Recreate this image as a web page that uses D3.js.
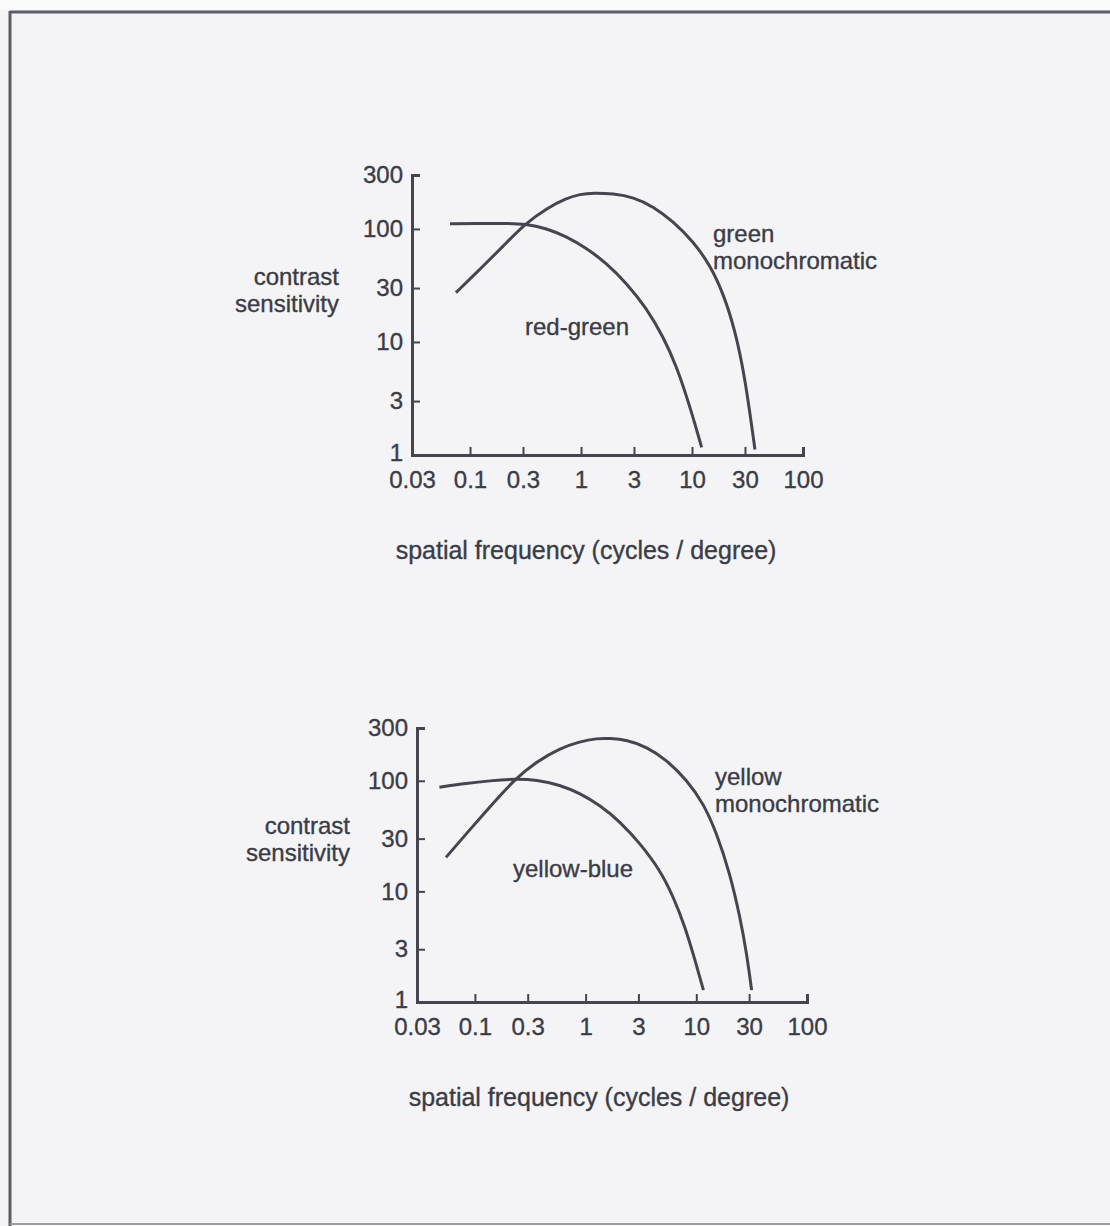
<!DOCTYPE html>
<html>
<head>
<meta charset="utf-8">
<script src="https://cdn.jsdelivr.net/npm/d3@7"></script>
<style>
  html, body { margin: 0; padding: 0; background: #f4f4f6; }
  svg { display: block; }
  text { font-family: "Liberation Sans", Arial, Helvetica, sans-serif; fill: #3b3c46; stroke: #3b3c46; stroke-width: 0.35px; }
</style>
</head>
<body>
<svg id="chart" width="1110" height="1226"></svg>
<script>
// ---- tick values / labels ----
const freqTicks = [0.03, 0.1, 0.3, 1, 3, 10, 30, 100];
const freqTickLabels = ["0.03", "0.1", "0.3", "1", "3", "10", "30", "100"];
const sensTicks = [1, 3, 10, 30, 100, 300];
const sensTickLabels = ["1", "3", "10", "30", "100", "300"];
const yTitleLines = ["contrast", "sensitivity"];
const xTitle = "spatial frequency (cycles / degree)";

// ---- top panel series ----
const redGreenFreq = [0.066, 0.123, 0.214, 0.313, 0.49, 0.741, 1.12, 1.70, 2.58, 3.90, 5.51, 7.27, 8.95, 10.6, 12.2];
const redGreenSens = [111, 112, 112, 111, 101, 85.5, 67.5, 49.7, 33, 19.9, 11.1, 6.04, 3.28, 1.91, 1.17];
const greenMonoFreq = [0.0746, 0.123, 0.200, 0.313, 0.49, 0.741, 0.98, 1.29, 1.95, 2.96, 4.48, 6.78, 10.3, 14.5, 19.1, 24.4, 30, 36.9];
const greenMonoSens = [27.3, 44, 70.8, 111, 152, 187, 203, 209, 205, 191, 158, 116, 77, 48, 27, 12.8, 4.9, 1.12];

// ---- bottom panel series ----
const yellowBlueFreq = [0.0478, 0.0843, 0.137, 0.230, 0.361, 0.588, 0.889, 1.35, 2.05, 3.10, 4.70, 6.20, 7.91, 9.73, 11.6];
const yellowBlueSens = [87.4, 94.9, 100, 104, 102, 91.6, 77, 60, 42.7, 27.2, 15.6, 8.95, 4.80, 2.40, 1.28];
const yellowMonoFreq = [0.0548, 0.0843, 0.137, 0.230, 0.361, 0.588, 0.889, 1.26, 1.66, 2.35, 3.56, 5.40, 8.19, 11.6, 15.3, 20.1, 24.8, 28.5, 31.6];
const yellowMonoSens = [20.3, 33.5, 58.3, 104, 149, 197, 226, 242, 242, 234, 203, 154, 102, 62.6, 33.5, 14.6, 5.9, 2.76, 1.28];

const ink = "#44454f";
const svg = d3.select("#chart");

// page frame of the scan
svg.append("rect").attr("x", 0).attr("y", 0).attr("width", 1110).attr("height", 1226).attr("fill", "#f4f4f6");
svg.append("rect").attr("x", 0).attr("y", 0).attr("width", 1110).attr("height", 10).attr("fill", "#fafafb");
svg.append("line").attr("x1", 10).attr("x2", 1110).attr("y1", 12).attr("y2", 12)
  .attr("stroke", "#5a5c66").attr("stroke-width", 3);
svg.append("line").attr("x1", 10).attr("x2", 10).attr("y1", 11).attr("y2", 1226)
  .attr("stroke", "#5a5c66").attr("stroke-width", 3);
svg.append("line").attr("x1", 10).attr("x2", 1110).attr("y1", 1224).attr("y2", 1224)
  .attr("stroke", "#9c9ea6").attr("stroke-width", 2);

function twoLines(g, lines, x, yFirst, anchor) {
  lines.forEach((s, i) => {
    g.append("text").attr("x", x).attr("y", yFirst + i * 27)
      .attr("text-anchor", anchor).attr("font-size", 24).text(s);
  });
}

function panel(cfg) {
  const x = d3.scaleLog().domain([0.03, 100]).range(cfg.xRange);
  const y = d3.scaleLog().domain([1, 300]).range(cfg.yRange);
  const g = svg.append("g");

  const xAxis = d3.axisBottom(x).tickValues(freqTicks)
    .tickFormat((d, i) => freqTickLabels[i]).tickSize(-8).tickPadding(16);
  const yAxis = d3.axisLeft(y).tickValues(sensTicks)
    .tickFormat((d, i) => sensTickLabels[i]).tickSize(-8).tickPadding(9);

  const gx = g.append("g").attr("transform", `translate(0,${cfg.yRange[0]})`).call(xAxis);
  const gy = g.append("g").attr("transform", `translate(${cfg.xRange[0]},0)`).call(yAxis);
  [gx, gy].forEach(a => {
    a.selectAll("path.domain").attr("stroke", ink).attr("stroke-width", 3).attr("fill", "none");
    a.selectAll(".tick line").attr("stroke", ink).attr("stroke-width", 2);
    a.selectAll(".tick text").attr("font-size", 24).attr("fill", "#3b3c46")
      .attr("font-family", '"Liberation Sans", Arial, Helvetica, sans-serif');
  });
  // the lowest y label sits a little higher, clear of the x labels
  gy.selectAll(".tick text").filter(d => d === 1).attr("y", -2);

  const line = d3.line().x(d => x(d[0])).y(d => y(d[1])).curve(d3.curveBasis);
  cfg.series.forEach(s => {
    g.append("path").datum(d3.zip(s.f, s.v)).attr("d", line)
      .attr("fill", "none").attr("stroke", ink).attr("stroke-width", 3)
      .attr("stroke-linecap", "butt");
    twoLines(g, s.label, s.lx, s.ly, "start");
  });

  twoLines(g, yTitleLines, cfg.yTitleX, cfg.yTitleY, "end");
  g.append("text").attr("x", cfg.xTitleX).attr("y", cfg.xTitleY)
    .attr("text-anchor", "middle").attr("font-size", 25).text(xTitle);
}

panel({
  xRange: [412, 803], yRange: [455, 175],
  yTitleX: 339, yTitleY: 285, xTitleX: 586, xTitleY: 559,
  series: [
    { f: redGreenFreq, v: redGreenSens, label: ["red-green"], lx: 525, ly: 335 },
    { f: greenMonoFreq, v: greenMonoSens, label: ["green", "monochromatic"], lx: 713, ly: 242 }
  ]
});

panel({
  xRange: [417, 807], yRange: [1002, 728],
  yTitleX: 350, yTitleY: 834, xTitleX: 599, xTitleY: 1106,
  series: [
    { f: yellowBlueFreq, v: yellowBlueSens, label: ["yellow-blue"], lx: 513, ly: 877 },
    { f: yellowMonoFreq, v: yellowMonoSens, label: ["yellow", "monochromatic"], lx: 715, ly: 785 }
  ]
});
</script>
</body>
</html>
